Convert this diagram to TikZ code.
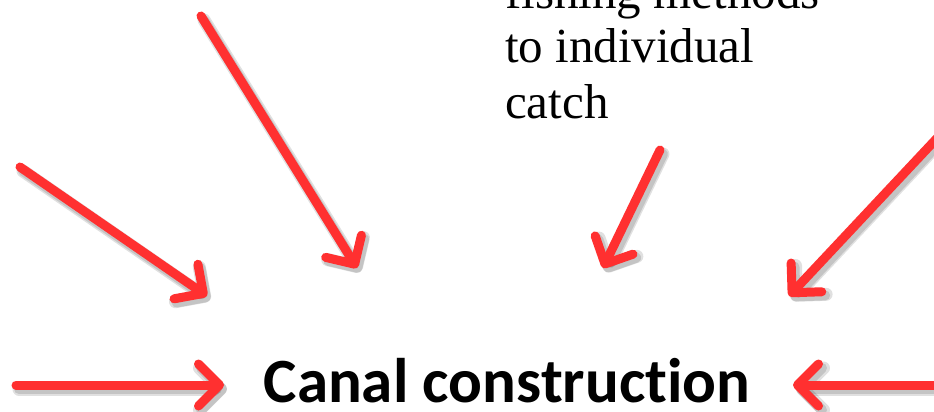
\documentclass[tikz,border=0pt]{standalone}
\usepackage{fontspec}
\setmainfont{Liberation Serif}
\newfontfamily\calib[Ligatures=NoCommon]{Carlito}
\usetikzlibrary{arrows.meta}
\definecolor{arrred}{RGB}{255,48,48}
\tikzset{
  redarrow/.style={draw=arrred, line width=9pt, line cap=round, line join=round,
    -{Straight Barb[length=21pt,width=42pt,line cap=round,line join=round]}},
  shadowarrow/.style={draw=black, opacity=0.12, line width=#1, line cap=round, line join=round,
    -{Straight Barb[length=21pt,width=42pt,line cap=round,line join=round]}},
  serifline/.style={anchor=base west, inner sep=0pt, font=\fontsize{49}{54}\selectfont},
  title/.style={anchor=base, inner sep=0pt, font=\calib\bfseries\fontsize{63}{66}\selectfont}
}
\begin{document}
\begin{tikzpicture}[x=1pt,y=-1pt]
\useasboundingbox[fill=white] (0,0) rectangle (934,412);
% text
\node[serifline] (l1) at (505,9) {fishing methods};
\node[serifline] (l2) at (505,63) {to individual};
\node[serifline] (l3) at (505,118) {catch};
\node[title] (canal) at (507,402) {Canal construct\kern0pt ion};
% arrow ends
\coordinate (a1) at (20,167); \coordinate (b1) at (207,296);
\coordinate (a2) at (201,16); \coordinate (b2) at (357,268);
\coordinate (a3) at (660,150); \coordinate (b3) at (603,268);
\coordinate (a4) at (940,135); \coordinate (b4) at (789,296);
\coordinate (a5) at (16,385); \coordinate (b5) at (224,385);
\coordinate (a6) at (940,385); \coordinate (b6) at (793,385);
% shadows
\foreach \s/\e in {a1/b1,a2/b2,a3/b3,a4/b4,a5/b5,a6/b6}{
  \draw[shadowarrow=13pt] ([shift={(3,4)}]\s) -- ([shift={(3,4)}]\e);
  \draw[shadowarrow=10pt] ([shift={(3,4)}]\s) -- ([shift={(3,4)}]\e);
}
% arrows
\foreach \s/\e in {a1/b1,a2/b2,a3/b3,a4/b4,a5/b5,a6/b6}{
  \draw[redarrow] (\s) -- (\e);
}
\end{tikzpicture}
\end{document}
